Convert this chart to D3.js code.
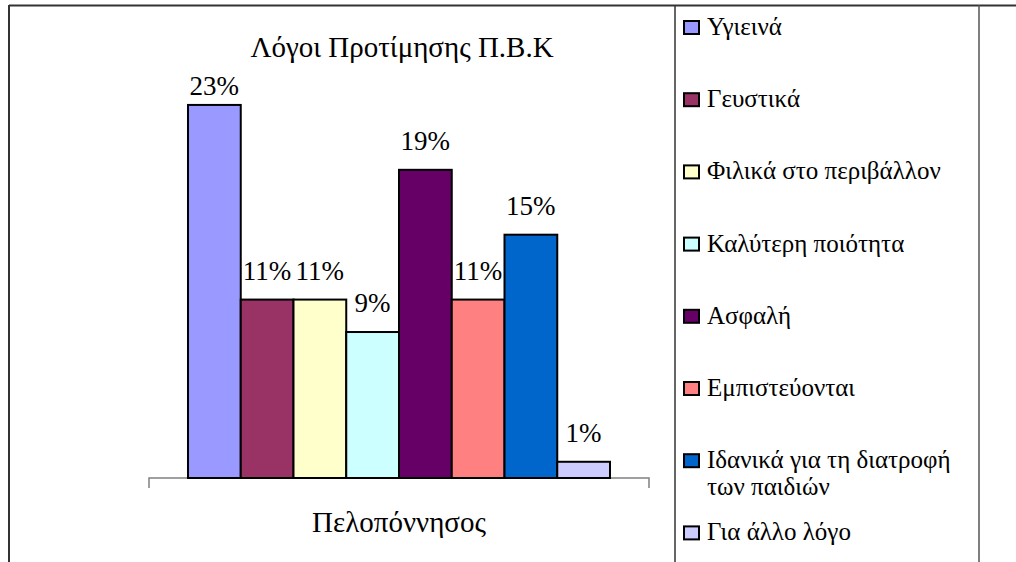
<!DOCTYPE html>
<html>
<head>
<meta charset="utf-8">
<script src="https://cdn.jsdelivr.net/npm/d3@7"></script>
</head>
<body>
<div id="chart"></div>
<script>
/*
  Bar chart - Λόγοι Προτίμησης
*/

var chartTitle = "Λόγοι Προτίμησης Π.Β.Κ";
var regions = ["Πελοπόννησος"];
var reasons = ["Υγιεινά", "Γευστικά", "Φιλικά στο περιβάλλον", "Καλύτερη ποιότητα",
               "Ασφαλή", "Εμπιστεύονται", "Ιδανικά για τη διατροφή των παιδιών", "Για άλλο λόγο"];
var legendLines = [["Υγιεινά"], ["Γευστικά"], ["Φιλικά στο περιβάλλον"], ["Καλύτερη ποιότητα"],
                   ["Ασφαλή"], ["Εμπιστεύονται"], ["Ιδανικά για τη διατροφή", "των παιδιών"], ["Για άλλο λόγο"]];
var percents = [23, 11, 11, 9, 19, 11, 15, 1];
var colors = ["#9999ff", "#993366", "#ffffcc", "#ccffff", "#660066", "#ff8080", "#0066cc", "#ccccff"];

var width = 1016, height = 562;
var plot = {left: 149, right: 649, top: 72.5, bottom: 478};

d3.select("body").style("margin", "0px");

var svg = d3.select("#chart").append("svg")
  .attr("width", width)
  .attr("height", height)
  .style("display", "block");

// outer frame (top and left edges) and legend column
svg.append("line").attr("x1", 9).attr("x2", width).attr("y1", 5.5).attr("y2", 5.5)
  .style("stroke", "#333").style("stroke-width", 2);
svg.append("line").attr("x1", 9).attr("x2", 9).attr("y1", 5).attr("y2", height)
  .style("stroke", "#333").style("stroke-width", 2);
svg.append("line").attr("x1", 675).attr("x2", 675).attr("y1", 5).attr("y2", height)
  .style("stroke", "#333").style("stroke-width", 1.5);
svg.append("line").attr("x1", 979).attr("x2", 979).attr("y1", 5).attr("y2", height)
  .style("stroke", "#555").style("stroke-width", 1.5);

var x0 = d3.scaleBand()
  .domain(regions)
  .range([plot.left, plot.right])
  .paddingOuter(0.0924);

var x1 = d3.scaleBand()
  .domain(reasons)
  .range([0, x0.bandwidth()]);

var y = d3.scaleLinear()
  .domain([0, 25])
  .range([plot.bottom, plot.top]);

//Category axis: baseline with end ticks
var r = x0.range();
svg.append("path")
  .attr("d", "M" + r[0] + "," + (y(0) + 10) + "V" + y(0) + "H" + r[1] + "V" + (y(0) + 10))
  .style("fill", "none")
  .style("stroke", "#808080")
  .style("stroke-width", 1.5);

//Add the bars
var group = svg.selectAll(".region")
  .data(regions)
  .enter().append("g")
  .attr("class", "region")
  .attr("transform", function(d){ return "translate(" + x0(d) + ",0)"; });

group.selectAll(".bar")
  .data(percents)
  .enter().append("rect")
  .attr("class", "bar")
  .attr("x", function(d, i){ return x1(reasons[i]); })
  .attr("y", function(d){ return y(d); })
  .attr("width", x1.bandwidth())
  .attr("height", function(d){ return y(0) - y(d); })
  .style("fill", function(d, i){ return colors[i]; })
  .style("stroke", "#000")
  .style("stroke-width", 2);

//Value labels (kept inside the plot area)
group.selectAll(".label")
  .data(percents)
  .enter().append("text")
  .attr("x", function(d, i){ return x1(reasons[i]) + x1.bandwidth() / 2; })
  .attr("y", function(d){ return Math.max(y(d) - 20, y(25) + 22); })
  .style("font-family", "'Liberation Serif'")
  .style("font-size", "27px")
  .style("text-anchor", "middle")
  .text(function(d){ return d + "%"; });

//Category label
svg.append("text")
  .attr("x", x0(regions[0]) + x0.bandwidth() / 2)
  .attr("y", 532)
  .style("font-family", "'Liberation Serif'")
  .style("font-size", "29px")
  .style("text-anchor", "middle")
  .text(regions[0]);

//Title
svg.append("text")
  .attr("x", 402)
  .attr("y", 57)
  .style("font-family", "'Liberation Serif'")
  .style("font-size", "29px")
  .style("text-anchor", "middle")
  .text(chartTitle);

//Legend
var legend = svg.selectAll(".legend")
  .data(reasons)
  .enter().append("g")
  .attr("transform", function(d, i){ return "translate(683," + (35 + i * 72.2) + ")"; });

legend.append("rect")
  .attr("x", 1)
  .attr("y", -14)
  .attr("width", 15)
  .attr("height", 13)
  .style("fill", function(d, i){ return colors[i]; })
  .style("stroke", "#000")
  .style("stroke-width", 2);

legend.append("text")
  .attr("x", 24)
  .style("font-family", "'Liberation Serif'")
  .style("font-size", "25px")
  .selectAll("tspan")
  .data(function(d, i){ return legendLines[i]; })
  .enter().append("tspan")
  .attr("x", 24)
  .attr("dy", function(d, j){ return j === 0 ? 0 : 27; })
  .text(function(d){ return d; });
</script>
</body>
</html>
